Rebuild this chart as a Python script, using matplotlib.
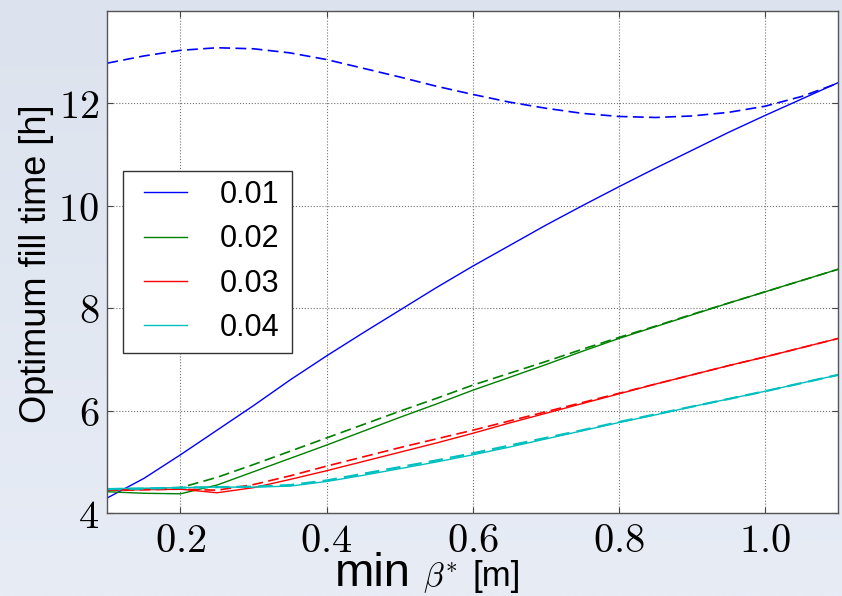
#!/usr/bin/env python3
"""Optimum fill time vs minimum beta* for several values (solid + dashed variants)."""

import matplotlib

matplotlib.use("Agg")
import matplotlib.pyplot as plt
import numpy as np
from matplotlib.patches import Rectangle
from matplotlib.ticker import FuncFormatter

plt.rcParams["mathtext.fontset"] = "cm"
plt.rcParams["font.family"] = ["Liberation Sans", "DejaVu Sans"]

beta = [0.1, 0.15, 0.2, 0.25, 0.3, 0.35, 0.4, 0.45, 0.5, 0.55, 0.6,
        0.65, 0.7, 0.75, 0.8, 0.85, 0.9, 0.95, 1.0, 1.05, 1.1]

labels = ["0.01", "0.02", "0.03", "0.04"]
colors = ["#0000ff", "#008000", "#ff0000", "#00bfbf"]

solid_001 = [4.30, 4.68, 5.14, 5.62, 6.10, 6.60, 7.07, 7.52, 7.96, 8.40, 8.82,
             9.22, 9.62, 10.00, 10.37, 10.73, 11.08, 11.43, 11.76, 12.08, 12.40]
dashed_001 = [12.78, 12.92, 13.03, 13.08, 13.06, 12.98, 12.85, 12.68, 12.51, 12.33, 12.17,
              12.02, 11.90, 11.80, 11.74, 11.72, 11.75, 11.82, 11.94, 12.13, 12.39]

solid_002 = [4.42, 4.39, 4.38, 4.55, 4.81, 5.07, 5.33, 5.60, 5.87, 6.13, 6.40,
             6.65, 6.90, 7.16, 7.41, 7.64, 7.87, 8.10, 8.32, 8.54, 8.76]
dashed_002 = [4.45, 4.47, 4.50, 4.70, 4.95, 5.21, 5.47, 5.73, 5.99, 6.24, 6.50,
              6.73, 6.96, 7.20, 7.43, 7.65, 7.88, 8.10, 8.32, 8.54, 8.76]

solid_003 = [4.45, 4.46, 4.47, 4.40, 4.50, 4.66, 4.83, 5.01, 5.19, 5.37, 5.56,
             5.76, 5.95, 6.14, 6.33, 6.52, 6.70, 6.88, 7.05, 7.23, 7.41]
dashed_003 = [4.45, 4.46, 4.47, 4.45, 4.56, 4.73, 4.92, 5.10, 5.28, 5.45, 5.62,
              5.80, 5.98, 6.16, 6.34, 6.52, 6.70, 6.88, 7.05, 7.23, 7.41]

solid_004 = [4.48, 4.49, 4.50, 4.51, 4.51, 4.53, 4.62, 4.74, 4.87, 5.00, 5.14,
             5.29, 5.45, 5.61, 5.77, 5.92, 6.08, 6.23, 6.38, 6.54, 6.70]
dashed_004 = [4.47, 4.48, 4.50, 4.51, 4.52, 4.55, 4.64, 4.77, 4.90, 5.03, 5.17,
              5.32, 5.47, 5.62, 5.78, 5.93, 6.08, 6.23, 6.38, 6.54, 6.70]

solids = [solid_001, solid_002, solid_003, solid_004]
dashes = [dashed_001, dashed_002, dashed_003, dashed_004]
dash_widths = [1.2, 1.2, 1.2, 1.6]

fig = plt.figure(figsize=(8.42, 5.96), dpi=100, facecolor="#dfe6f1")

# soft vertical gradient behind everything (slide-like background)
bg = fig.add_axes([0, 0, 1, 1], zorder=-10)
grad = np.linspace(0, 1, 256).reshape(-1, 1)
top_c = np.array([0xdc, 0xe3, 0xee]) / 255
bot_c = np.array([0xe7, 0xec, 0xf5]) / 255
bg.imshow(top_c + grad[..., None] * (bot_c - top_c), aspect="auto",
          extent=[0, 1, 0, 1], origin="upper")
bg.set_axis_off()

ax = fig.add_axes([0.1275, 0.1388, 0.868, 0.843])
ax.set_facecolor("white")

handles = []
for lab, col, ys, yd, dw in zip(labels, colors, solids, dashes, dash_widths):
    h, = ax.plot(beta, ys, color=col, lw=1.0, label=lab)
    ax.plot(beta, yd, color=col, lw=dw, ls=(0, (6.5, 3.2)))
    handles.append(h)

ax.set_xlim(0.1, 1.1)
ax.set_ylim(4, 13.8)
ax.set_xticks([0.2, 0.4, 0.6, 0.8, 1.0])
ax.set_yticks([4, 6, 8, 10, 12])
ax.xaxis.set_major_formatter(FuncFormatter(lambda v, p: f"${v:.1f}$"))
ax.yaxis.set_major_formatter(FuncFormatter(lambda v, p: f"${v:.0f}$"))
ax.tick_params(direction="in", top=True, right=True, length=4, width=0.8,
               labelsize=29, color="#444444")
ax.tick_params(axis="x", pad=6)
ax.tick_params(axis="y", pad=6)
ax.grid(True, color="0.45", ls=":", lw=0.8)
for sp in ax.spines.values():
    sp.set_color("#555555")
    sp.set_linewidth(1.0)

# legend frame drawn separately so the inner padding can differ per side
fig.add_artist(Rectangle((123 / 842, 1 - 353 / 596), 169 / 842, 182 / 596,
                         transform=fig.transFigure, facecolor="white",
                         edgecolor="#333333", lw=1.0, zorder=5))
leg = fig.legend(handles, labels, loc="upper left",
                 bbox_to_anchor=(144 / 842, 1 - 180 / 596),
                 bbox_transform=fig.transFigure, fontsize=22, frameon=False,
                 borderaxespad=0, borderpad=0, handlelength=1.41,
                 handletextpad=1.08, labelspacing=0.47)
leg.set_zorder(6)

fig.text(0.043, 0.557, "Optimum fill time [h]", rotation=90, ha="center",
         va="center", fontsize=26)
fig.text(0.398, 0.0168, "min", fontsize=34, ha="left", va="baseline")
fig.text(0.502, 0.0168, r"$\beta^{*}$", fontsize=24, ha="left", va="baseline")
fig.text(0.561, 0.0168, "[m]", fontsize=25, ha="left", va="baseline")

fig.savefig("out.png", dpi=100, facecolor=fig.get_facecolor())
